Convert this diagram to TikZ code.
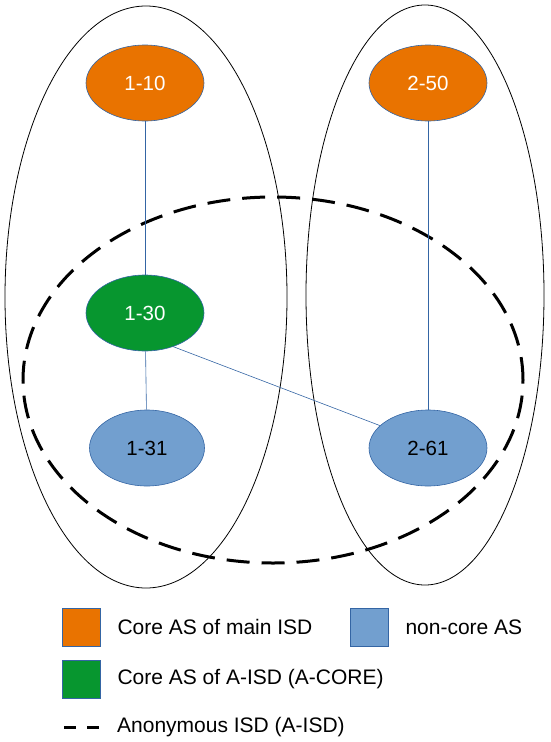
\documentclass[tikz,border=0pt]{standalone}
\usepackage{fontspec}
\setmainfont{Liberation Sans}
\usetikzlibrary{shapes.geometric,positioning}
\definecolor{asorange}{HTML}{E97300}
\definecolor{asgreen}{HTML}{07962F}
\definecolor{asblue}{HTML}{729FCF}
\definecolor{asline}{HTML}{3465A4}
\tikzset{
  asnode/.style={ellipse, draw=asline, line width=0.6pt, inner sep=0pt,
    minimum width=118pt, minimum height=76pt, font=\fontsize{20.5}{24}\selectfont},
  maincore/.style={asnode, fill=asorange, text=white},
  acore/.style={asnode, fill=asgreen, text=white},
  noncore/.style={asnode, fill=asblue, text=black},
  link/.style={asline, line width=0.6pt},
  keybox/.style={draw=asline, line width=0.6pt, minimum size=38pt, inner sep=0pt},
  keytext/.style={anchor=west, inner sep=0pt, font=\fontsize{21}{25}\selectfont},
  aisd/.style={line width=3pt, dash pattern=on 23pt off 12pt}
}
\begin{document}
\begin{tikzpicture}[x=1pt,y=-1pt]
\useasboundingbox (0,0) rectangle (551,742);
% main ISDs
\draw[line width=0.8pt] (146,297) ellipse [x radius=141pt, y radius=291pt];
\draw[line width=0.8pt] (425,295) ellipse [x radius=119pt, y radius=290pt];
% anonymous ISD
\draw[aisd] (273,380) ellipse [x radius=250pt, y radius=183pt];
% ASes
\node[maincore] (as110) at (145,83) {1-10};
\node[maincore] (as250) at (428,83) {2-50};
\node[acore] (as130) at (145,313) {1-30};
\node[noncore, minimum width=115pt] (as131) at (147,448) {1-31};
\node[noncore] (as261) at (428,448) {2-61};
\draw[link] (as110) -- (as130);
\draw[link] (as130) -- (as131);
\draw[link] (as130.-50) -- (as261.155);
\draw[link] (as250) -- (as261);
% legend
\node[keybox, fill=asorange] (keyorange) at (81,627) {};
\node[keytext, right=17pt of keyorange] {Core AS of main ISD};
\node[keybox, fill=asblue] (keyblue) at (369,627) {};
\node[keytext, right=17pt of keyblue] {non-core AS};
\node[keybox, fill=asgreen] (keygreen) at (81,679) {};
\node[keytext, right=17pt of keygreen] {Core AS of A-ISD (A-CORE)};
\coordinate (dashA) at (64,727);
\coordinate (dashB) at (100,727);
\draw[line width=3pt, dash pattern=on 12pt off 11pt] (dashA) -- (dashB);
\node[keytext] at (117,727) {Anonymous ISD (A-ISD)};
\end{tikzpicture}
\end{document}
